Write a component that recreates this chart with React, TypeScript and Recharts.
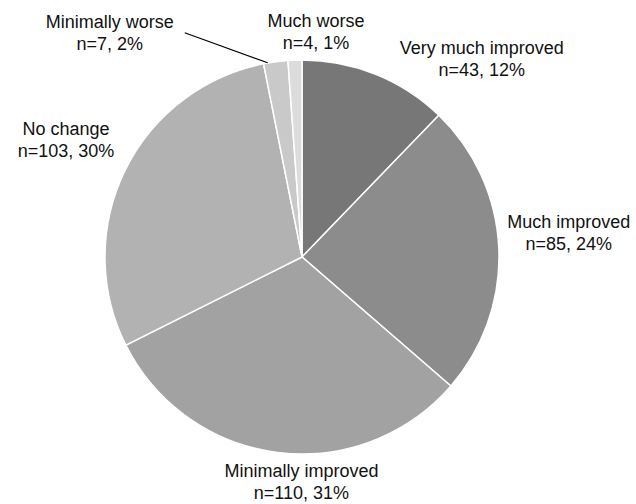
import React from "react";
import { PieChart, Pie, Cell } from "recharts";

const categories = [
  "Very much improved",
  "Much improved",
  "Minimally improved",
  "No change",
  "Minimally worse",
  "Much worse",
];
const counts = [43, 85, 110, 103, 7, 4];
const percents = [12, 24, 31, 30, 2, 1];

const COLORS = ["#777777", "#8c8c8c", "#a2a2a2", "#b2b2b2", "#c9c9c9", "#dcdcdc"];
// label block offsets relative to the slice's outer mid point (style only)
const LABEL_OFFSETS: [number, number][] = [
  [106, -15],
  [70, -15],
  [24, 30],
  [-59, -30],
  [-166, -29],
  [21, -28],
];

const data = categories.map((name, i) => ({
  name,
  value: counts[i],
  pct: percents[i],
}));

const RAD = Math.PI / 180;

const renderLabel = (props: any) => {
  const { cx, cy, midAngle, outerRadius, index } = props;
  const ox = cx + outerRadius * Math.cos(-midAngle * RAD);
  const oy = cy + outerRadius * Math.sin(-midAngle * RAD);
  const [dx, dy] = LABEL_OFFSETS[index];
  const lx = ox + dx;
  const ly = oy + dy;
  const d = data[index];
  return (
    <g key={`lbl-${index}`}>
      {index === 4 && (
        <line x1={lx + 75} y1={ly} x2={ox - 8} y2={oy + 1} stroke="#000" strokeWidth={1.2} />
      )}
      <text
        x={lx}
        y={ly}
        textAnchor="middle"
        fill="#111"
        fontSize={18}
        fontFamily="'Liberation Sans', Arial, sans-serif"
      >
        <tspan x={lx} y={ly - 5}>{d.name}</tspan>
        <tspan x={lx} y={ly + 17}>{`n=${d.value}, ${d.pct}%`}</tspan>
      </text>
    </g>
  );
};

export default function App() {
  return (
    <div style={{ position: "absolute", left: 0, top: 0, width: 636, height: 504, background: "#fff" }}>
      <PieChart width={636} height={504} margin={{ top: 0, right: 0, bottom: 0, left: 0 }}>
        <Pie
          data={data}
          dataKey="value"
          nameKey="name"
          cx={302}
          cy={257}
          outerRadius={197}
          startAngle={90}
          endAngle={-270}
          stroke="#ffffff"
          strokeWidth={1.5}
          label={renderLabel}
          labelLine={false}
          isAnimationActive={false}
        >
          {data.map((_, i) => (
            <Cell key={i} fill={COLORS[i]} />
          ))}
        </Pie>
      </PieChart>
    </div>
  );
}
